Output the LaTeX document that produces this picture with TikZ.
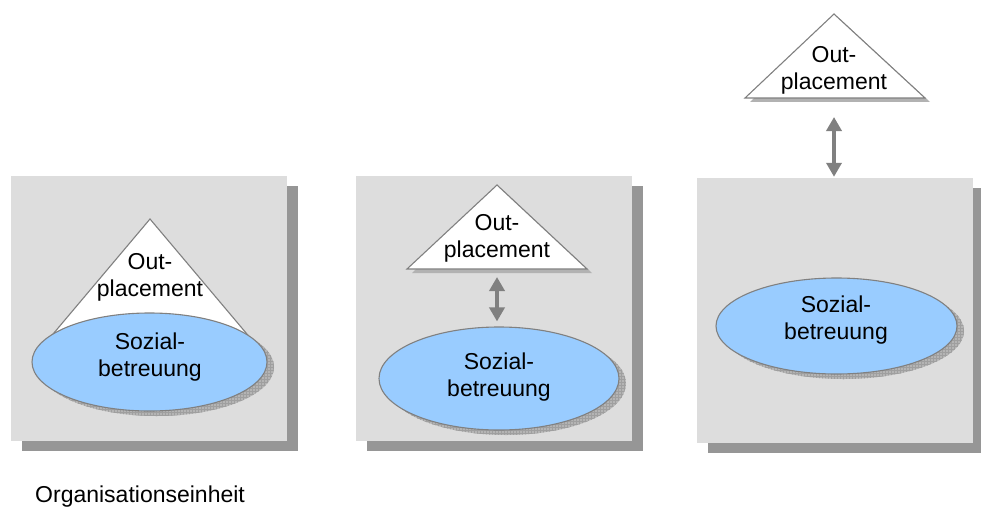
\documentclass[tikz,border=0pt]{standalone}
\usepackage{fontspec}
\setmainfont{Liberation Sans}
\usetikzlibrary{shapes.geometric,arrows.meta,shadows,patterns}
\definecolor{panelgray}{HTML}{DDDDDD}
\definecolor{panelshadow}{HTML}{969696}
\definecolor{linegray}{HTML}{808080}
\definecolor{ellblue}{HTML}{99CCFF}
\definecolor{hatchgray}{HTML}{B4B4B4}
\tikzset{
  panel/.style={rectangle, fill=panelgray, draw=none, minimum width=276pt, minimum height=265pt, inner sep=0pt,
    drop shadow={shadow xshift=11pt, shadow yshift=-10pt, opacity=1, fill=panelshadow}},
  ellbox/.style={ellipse, fill=ellblue, draw=linegray, line width=1.1pt, inner sep=0pt},
  ellshadow/.style={fill=hatchgray, draw=none, postaction={pattern=grid, pattern color=gray!75}},
  tri/.style={fill=white, draw=linegray, line width=1.1pt, line join=miter},
  trishadow/.style={fill=gray!60, draw=none},
  lbl/.style={align=center, font=\fontsize{23}{27}\selectfont, inner sep=0pt},
  dblarrow/.style={draw=linegray, line width=4pt, {Triangle[length=14pt,width=15pt]}-{Triangle[length=14pt,width=15pt]}, color=linegray}
}
\begin{document}
\begin{tikzpicture}[x=1pt,y=-1pt]
\useasboundingbox (0,0) rectangle (981,508);
% panels
\node[panel] (p1) at (149,308.5) {};
\node[panel] (p2) at (494,308.5) {};
\node[panel] (p3) at (835,310.5) {};
% panel 1 triangle (behind ellipse)
\coordinate (t1a) at (150,219);
\coordinate (t1l) at (48,340);
\coordinate (t1r) at (252,340);
\draw[tri] (t1a) -- (t1r) -- (t1l) -- cycle;
% ellipse shadows
\fill[ellshadow] (156.5,367) ellipse [x radius=117.5, y radius=49];
\fill[ellshadow] (506,383.5) ellipse [x radius=120, y radius=51.5];
\fill[ellshadow] (843.5,331) ellipse [x radius=120.5, y radius=48];
% ellipses
\node[ellbox, minimum width=235pt, minimum height=98pt] (e1) at (149.5,362) {};
\node[ellbox, minimum width=240pt, minimum height=103pt] (e2) at (499,378.5) {};
\node[ellbox, minimum width=241pt, minimum height=96pt] (e3) at (836.5,326) {};
% panel 2 triangle
\coordinate (t2a) at (497,185);
\coordinate (t2l) at (407,269);
\coordinate (t2r) at (587,269);
\coordinate (t2b) at (497,269);
\fill[trishadow] ([shift={(5pt,-4pt)}]t2a) -- ([shift={(5pt,-4pt)}]t2r) -- ([shift={(5pt,-4pt)}]t2l) -- cycle;
\draw[tri] (t2a) -- (t2r) -- (t2l) -- cycle;
% panel 3 triangle
\coordinate (t3a) at (834,14);
\coordinate (t3l) at (745,98);
\coordinate (t3r) at (925,98);
\coordinate (t3b) at (834,98);
\fill[trishadow] ([shift={(5pt,-4pt)}]t3a) -- ([shift={(5pt,-4pt)}]t3r) -- ([shift={(5pt,-4pt)}]t3l) -- cycle;
\draw[tri] (t3a) -- (t3r) -- (t3l) -- cycle;
% labels
\node[lbl] (o1) at (150,277) {Out-\\placement};
\node[lbl] (o2) at (497,238) {Out-\\placement};
\node[lbl] (o3) at (834,70) {Out-\\placement};
\node[lbl] (s1) at (150,357) {Sozial-\\betreuung};
\node[lbl] (s2) at (499,377) {Sozial-\\betreuung};
\node[lbl] (s3) at (836,320) {Sozial-\\betreuung};
% arrows
\draw[dblarrow] ([yshift=-8pt]t2b) -- ([yshift=5pt]e2.north -| t2b);
\draw[dblarrow] ([yshift=-19pt]t3b) -- ([yshift=1pt]p3.north -| t3b);
% caption
\node[font=\fontsize{23}{27}\selectfont, anchor=base west, inner sep=0pt] (cap) at (35,502) {Organisationseinheit};
\end{tikzpicture}
\end{document}
